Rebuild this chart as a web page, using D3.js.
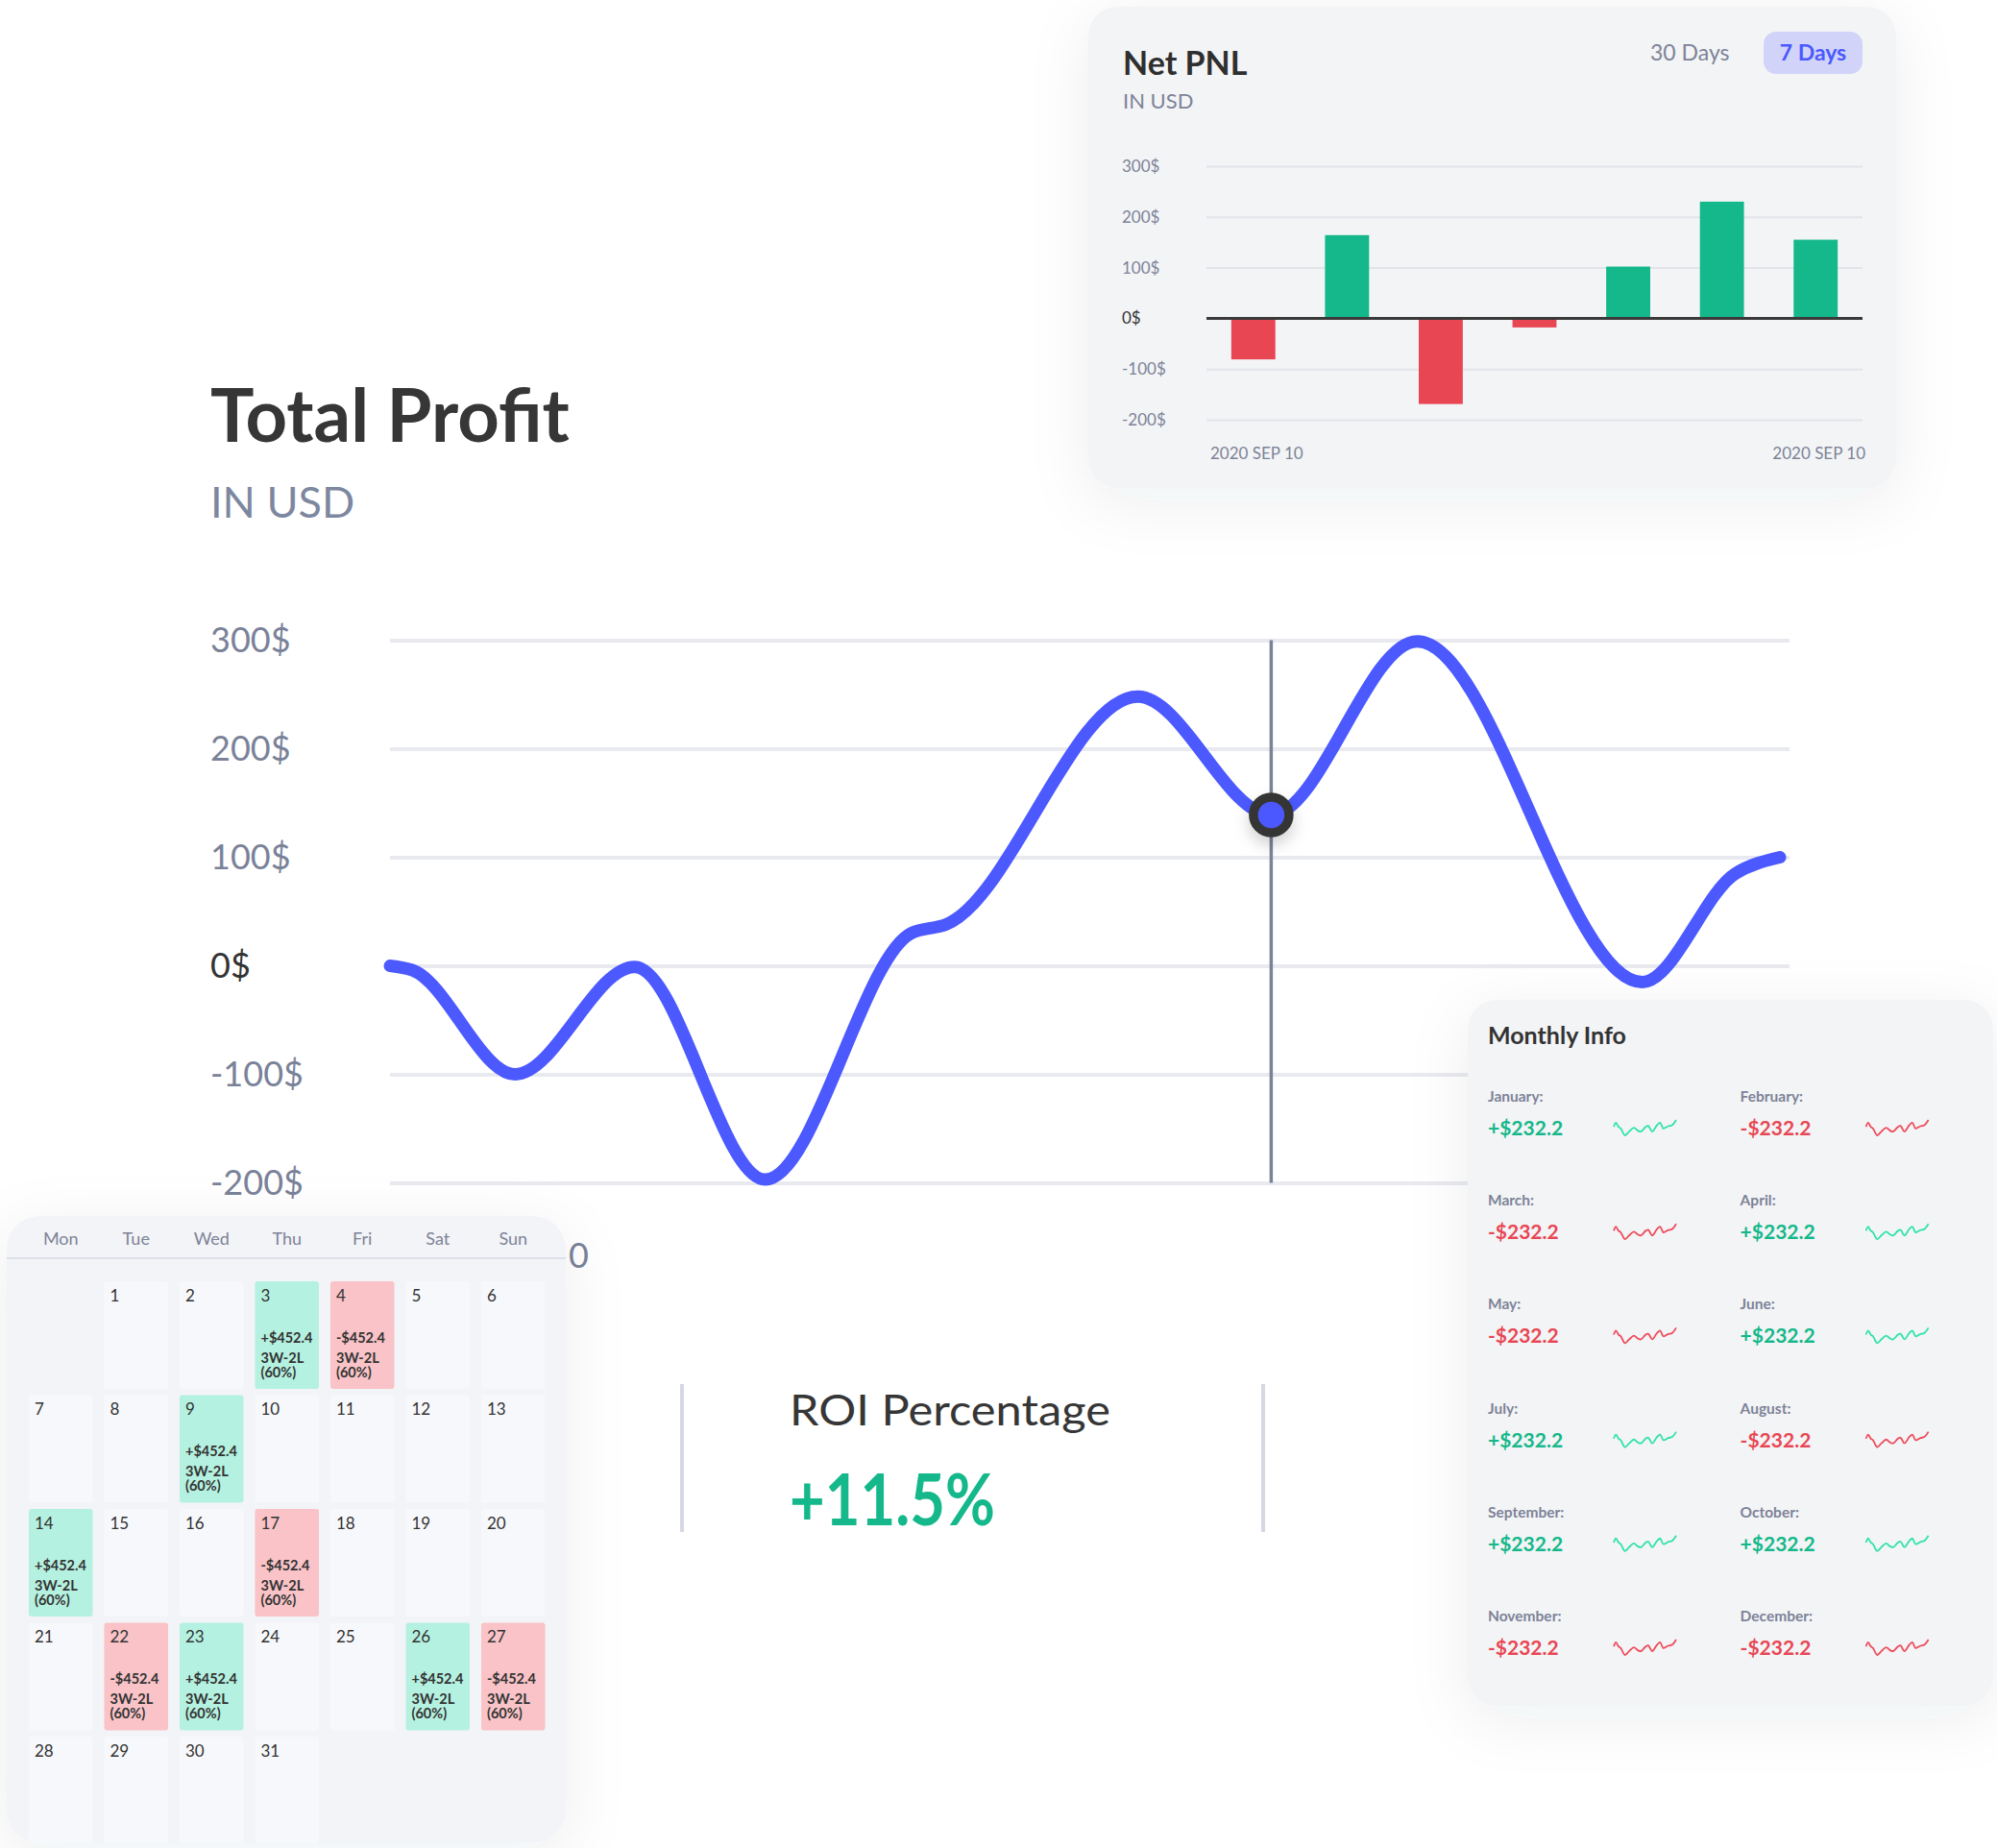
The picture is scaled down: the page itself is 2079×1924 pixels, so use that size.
<!DOCTYPE html>
<head>
  <meta charset="utf-8">
  <script src="https://d3js.org/d3.v7.min.js"></script>
  <style>
    body { margin:0; background:#fff; }
    svg text { font-family: Lato, "Open Sans", sans-serif; }
  </style>
</head>
<body>
<script>

// ---- data ----
// total profit curve: position along the period (0-100) and profit in USD
var profitX = [0, 1.6, 9.0, 17.6, 27.0, 37.5, 40.0, 53.8, 63.4, 73.9, 90.1, 96.8, 100];
var profitY = [0, -4, -100, -1, -197, 30, 38, 248, 139, 299, -15, 85, 100];
var profitTicks = [-200, -100, 0, 100, 200, 300];
var markerIndex = 8;
var profitXTick = [14.3];
var profitXLabels = ["0"];

// net pnl bars, 7 days
var pnlValues = [-81, 164, -169, -18, 102, 230, 155];
var pnlLabels = ["2020 SEP 10", "", "", "", "", "", "2020 SEP 10"];
var pnlTicks = [-200, -100, 0, 100, 200, 300];

// calendar
var weekdays = ["Mon", "Tue", "Wed", "Thu", "Fri", "Sat", "Sun"];
var monthDays = 31;
var firstWeekday = 1; // 1st falls on Tuesday
var profitDays = [3, 9, 14, 23, 26];
var lossDays = [4, 17, 22, 27];
var dayAmount = 452.4;
var dayRecord = "3W-2L";
var dayRate = 60;

// monthly info
var months = ["January", "February", "March", "April", "May", "June", "July", "August", "September", "October", "November", "December"];
var monthPnl = [232.2, -232.2, -232.2, 232.2, -232.2, 232.2, 232.2, -232.2, 232.2, 232.2, -232.2, -232.2];
var sparkT = [0, 2.3, 5, 7.3, 11.7, 16, 21, 25, 28.3, 33.3, 36, 40, 45, 48.3, 51.7, 56.7, 60.7, 65];
var sparkV = [0, 4.3, 0, -1.7, -9, -5, -1, -4, -5, 0, 1, -5, 1.7, 4.3, -1.7, 0.7, 1.7, 7.3];

var roiValue = 11.5;

// ---- colours ----
var green = "#14b88a", red = "#e94654", blue = "#4b59ff", grey = "#7d8398", dark = "#363636";

var svg = d3.select("body").append("svg")
    .attr("width", 2079)
    .attr("height", 1924);

var defs = svg.append("defs");
var sh = defs.append("filter").attr("id", "shadow")
    .attr("x", "-30%").attr("y", "-30%").attr("width", "160%").attr("height", "160%");
sh.append("feDropShadow").attr("dx", 0).attr("dy", 14).attr("stdDeviation", 32)
    .attr("flood-color", "#28304f").attr("flood-opacity", 0.07);
var dsh = defs.append("filter").attr("id", "dotshadow")
    .attr("x", "-100%").attr("y", "-100%").attr("width", "300%").attr("height", "300%");
dsh.append("feDropShadow").attr("dx", 0).attr("dy", 8).attr("stdDeviation", 8)
    .attr("flood-color", "#000").attr("flood-opacity", 0.18);

// ================= Total Profit =================
svg.append("text").attr("x", 219).attr("y", 460)
    .attr("font-size", 76).attr("font-weight", 700).attr("fill", dark)
    .text("Total Profit");
svg.append("text").attr("x", 219).attr("y", 539)
    .attr("font-size", 45).attr("fill", "#7d87a0")
    .text("IN USD");

var main = {left: 406, right: 1853, gridRight: 1863, top: 666.5, bottom: 1231.5};
var x = d3.scaleLinear().domain([0, 100]).range([main.left, main.right]);
var y = d3.scaleLinear().domain([-200, 300]).range([main.bottom, main.top]);

var yAxis = svg.append("g")
    .attr("transform", "translate(" + main.left + ",0)")
    .call(d3.axisRight(y).tickValues(profitTicks).tickSize(main.gridRight - main.left)
          .tickFormat(function(d){ return d + "$"; }));
yAxis.select(".domain").remove();
yAxis.selectAll("line").attr("stroke", "#e9eaf0").attr("stroke-width", 4);
yAxis.selectAll("text")
    .attr("x", 219 - main.left)
    .attr("text-anchor", "start")
    .attr("font-size", 36)
    .attr("fill", function(d){ return d === 0 ? "#333" : "#7a8299"; });

// x label (mostly hidden under the calendar)
svg.selectAll(".xlab").data(profitXTick).enter().append("text")
    .attr("x", function(d){ return x(d); })
    .attr("y", 1320)
    .attr("text-anchor", "end")
    .attr("font-size", 36).attr("fill", "#7a8299")
    .text(function(d, i){ return profitXLabels[i]; });

var mx = x(profitX[markerIndex]);
svg.append("line")
    .attr("x1", mx).attr("x2", mx)
    .attr("y1", y(300)).attr("y2", y(-200))
    .attr("stroke", "#7b8399").attr("stroke-width", 3.5);

var pts = profitX.map(function(d, i){ return [d, profitY[i]]; });
var line = d3.line()
    .x(function(d){ return x(d[0]); })
    .y(function(d){ return y(d[1]); })
    .curve(d3.curveMonotoneX);
svg.append("path")
    .datum(pts)
    .attr("fill", "none")
    .attr("stroke", blue)
    .attr("stroke-width", 13)
    .attr("stroke-linecap", "round")
    .attr("d", line);

svg.append("circle")
    .attr("cx", mx).attr("cy", y(profitY[markerIndex]))
    .attr("r", 18.5)
    .attr("fill", blue).attr("stroke", "#363636").attr("stroke-width", 9.5)
    .attr("filter", "url(#dotshadow)");

// ================= ROI =================
svg.append("line").attr("x1", 710).attr("x2", 710).attr("y1", 1441).attr("y2", 1595)
    .attr("stroke", "#d5d8e4").attr("stroke-width", 4);
svg.append("line").attr("x1", 1315).attr("x2", 1315).attr("y1", 1441).attr("y2", 1595)
    .attr("stroke", "#d5d8e4").attr("stroke-width", 4);
svg.append("text").attr("x", 822).attr("y", 1484)
    .attr("font-size", 45).attr("fill", dark)
    .attr("textLength", 334).attr("lengthAdjust", "spacingAndGlyphs")
    .text("ROI Percentage");
svg.append("text").attr("x", 822).attr("y", 1588)
    .attr("font-size", 74).attr("font-weight", 700).attr("fill", green)
    .attr("textLength", 214).attr("lengthAdjust", "spacingAndGlyphs")
    .text("+" + roiValue + "%");

// ================= Calendar =================
var cal = {x: 7, y: 1266, w: 582, h: 653};
defs.append("clipPath").attr("id", "calclip")
  .append("rect").attr("x", cal.x).attr("y", cal.y).attr("width", cal.w).attr("height", cal.h).attr("rx", 34);
svg.append("rect")
    .attr("x", cal.x).attr("y", cal.y).attr("width", cal.w).attr("height", cal.h).attr("rx", 34)
    .attr("fill", "#f3f4f7").attr("filter", "url(#shadow)");
var calG = svg.append("g").attr("clip-path", "url(#calclip)");

var cx = d3.scaleBand().domain(d3.range(7)).range([24, 573.5]).paddingInner(0.152).paddingOuter(0.076);
var cy = d3.scaleBand().domain(d3.range(5)).range([1330.7, 1923.2]).paddingInner(0.055).paddingOuter(0.0275);

calG.selectAll(".wd").data(weekdays).enter().append("text")
    .attr("x", function(d, i){ return cx(i) + cx.bandwidth() / 2; })
    .attr("y", 1296)
    .attr("text-anchor", "middle")
    .attr("font-size", 18).attr("fill", grey)
    .text(function(d){ return d; });
calG.append("line").attr("x1", cal.x).attr("x2", cal.x + cal.w).attr("y1", 1310).attr("y2", 1310)
    .attr("stroke", "#d8dbe6").attr("stroke-width", 1.5);

var cells = [];
for (var s = firstWeekday; s < firstWeekday + monthDays; s++) {
  cells.push({slot: s, day: s - firstWeekday + 1});
}

var cell = calG.selectAll(".cell").data(cells).enter().append("g")
    .attr("transform", function(d){ return "translate(" + cx(d.slot % 7) + "," + cy(Math.floor(d.slot / 7)) + ")"; });
cell.append("rect")
    .attr("width", cx.bandwidth()).attr("height", cy.bandwidth()).attr("rx", 3)
    .attr("fill", function(d){
      if (profitDays.indexOf(d.day) >= 0) return "#b5f1e0";
      if (lossDays.indexOf(d.day) >= 0) return "#f9c3c7";
      return "#f7f8fb";
    });
cell.append("text").attr("x", 6).attr("y", 21)
    .attr("font-size", 17).attr("fill", "#333")
    .text(function(d){ return d.day; });
var traded = cell.filter(function(d){ return profitDays.indexOf(d.day) >= 0 || lossDays.indexOf(d.day) >= 0; });
traded.append("text").attr("x", 6).attr("y", 64)
    .attr("font-size", 14.5).attr("font-weight", 700).attr("fill", "#333")
    .text(function(d){ return (profitDays.indexOf(d.day) >= 0 ? "+" : "-") + "$" + dayAmount; });
traded.append("text").attr("x", 6).attr("y", 85)
    .attr("font-size", 14.5).attr("font-weight", 700).attr("fill", "#333")
    .text(dayRecord);
traded.append("text").attr("x", 6).attr("y", 100)
    .attr("font-size", 14.5).attr("font-weight", 700).attr("fill", "#333")
    .text("(" + dayRate + "%)");

// ================= Monthly Info =================
var mon = {x: 1528, y: 1041, w: 547, h: 735};
svg.append("rect")
    .attr("x", mon.x).attr("y", mon.y).attr("width", mon.w).attr("height", mon.h).attr("rx", 30)
    .attr("fill", "#f3f4f6").attr("filter", "url(#shadow)");
svg.append("text").attr("x", 1549).attr("y", 1087)
    .attr("font-size", 25).attr("font-weight", 700).attr("fill", "#333")
    .text("Monthly Info");

var sx = d3.scaleLinear().domain([0, 65]).range([0, 65]);
var sy = d3.scaleLinear().domain(d3.extent(sparkV)).range([35, 19]);
var spark = d3.line()
    .x(function(d){ return sx(d[0]); })
    .y(function(d){ return sy(d[1]); })
    .curve(d3.curveCatmullRom);
var sparkPts = sparkT.map(function(d, i){ return [d, sparkV[i]]; });

var mg = svg.selectAll(".month").data(months).enter().append("g")
    .attr("transform", function(d, i){ return "translate(" + (i % 2 === 0 ? 1549 : 1811.6) + "," + (1147 + Math.floor(i / 2) * 108.2) + ")"; });
mg.append("text").attr("font-size", 15.5).attr("font-weight", 700).attr("fill", grey)
    .text(function(d){ return d + ":"; });
mg.append("text").attr("y", 35).attr("font-size", 21).attr("font-weight", 700)
    .attr("fill", function(d, i){ return monthPnl[i] >= 0 ? green : red; })
    .text(function(d, i){ return (monthPnl[i] >= 0 ? "+" : "-") + "$" + Math.abs(monthPnl[i]); });
mg.append("path")
    .attr("transform", "translate(131,0)")
    .attr("d", spark(sparkPts))
    .attr("fill", "none")
    .attr("stroke", function(d, i){ return monthPnl[i] >= 0 ? "#2ee3a6" : "#ee4b5a"; })
    .attr("stroke-width", 1.8);

// ================= Net PNL =================
var pnl = {x: 1133, y: 7, w: 841, h: 501};
svg.append("rect")
    .attr("x", pnl.x).attr("y", pnl.y).attr("width", pnl.w).attr("height", pnl.h).attr("rx", 30)
    .attr("fill", "#f3f4f6").attr("filter", "url(#shadow)");
svg.append("text").attr("x", 1169).attr("y", 78)
    .attr("font-size", 34).attr("font-weight", 700).attr("fill", "#2f2f2f")
    .text("Net PNL");
svg.append("text").attr("x", 1169).attr("y", 113)
    .attr("font-size", 22).attr("fill", grey)
    .text("IN USD");
svg.append("text").attr("x", 1718).attr("y", 63)
    .attr("font-size", 23).attr("fill", grey)
    .text("30 Days");
svg.append("rect").attr("x", 1836).attr("y", 33).attr("width", 103).attr("height", 44).attr("rx", 13)
    .attr("fill", "#d1d4f8");
svg.append("text").attr("x", 1887.5).attr("y", 63).attr("text-anchor", "middle")
    .attr("font-size", 23).attr("font-weight", 700).attr("fill", blue)
    .text("7 Days");

var bx = d3.scaleBand().domain(d3.range(pnlValues.length)).range([1256, 1939]).paddingInner(0.53).paddingOuter(0.265);
var by = d3.scaleLinear().domain([-200, 300]).range([437, 173]);

var bAxis = svg.append("g")
    .attr("transform", "translate(1256,0)")
    .call(d3.axisRight(by).tickValues(pnlTicks).tickSize(1939 - 1256)
          .tickFormat(function(d){ return d + "$"; }));
bAxis.select(".domain").remove();
bAxis.selectAll("line").attr("stroke", "#e3e4ea").attr("stroke-width", 2);
bAxis.selectAll("text")
    .attr("x", 1168 - 1256)
    .attr("text-anchor", "start")
    .attr("font-size", 17)
    .attr("fill", function(d){ return d === 0 ? "#333" : grey; });

svg.selectAll(".bar").data(pnlValues).enter().append("rect")
    .attr("x", function(d, i){ return bx(i); })
    .attr("y", function(d){ return by(Math.max(0, d)); })
    .attr("width", bx.bandwidth())
    .attr("height", function(d){ return Math.abs(by(d) - by(0)); })
    .attr("fill", function(d){ return d >= 0 ? green : red; });

svg.append("line").attr("x1", 1256).attr("x2", 1939).attr("y1", by(0)).attr("y2", by(0))
    .attr("stroke", "#3a3a3a").attr("stroke-width", 3);

svg.selectAll(".blab").data(pnlLabels).enter().append("text")
    .filter(function(d){ return d !== ""; })
    .attr("x", function(d, i){ return i === 0 ? 1260 : 1942; })
    .attr("y", 478)
    .attr("text-anchor", function(d, i){ return i === 0 ? "start" : "end"; })
    .attr("font-size", 17).attr("fill", grey)
    .text(function(d){ return d; });

</script>
</body>
